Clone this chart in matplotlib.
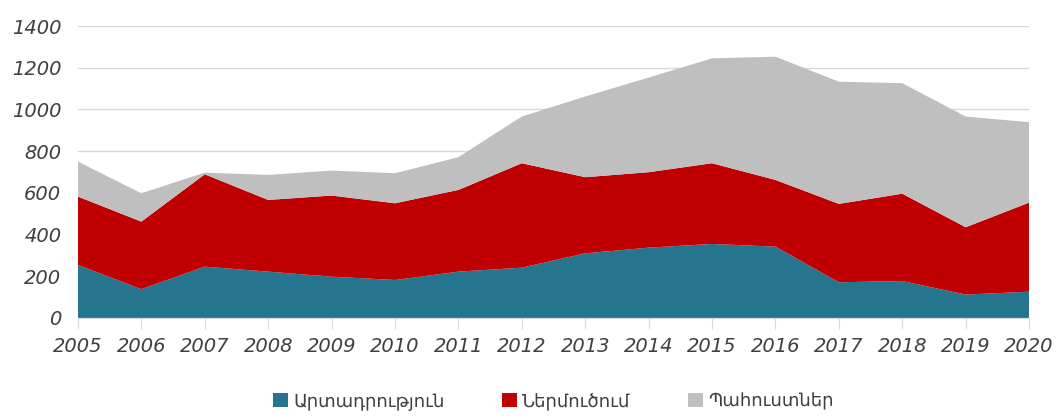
import numpy as np
import matplotlib.pyplot as plt

years = list(range(2005, 2021))
production = [254, 138, 246, 222, 198, 182, 222, 241, 310, 337, 355, 342, 171, 177, 112, 126]
imports = [328, 324, 443, 344, 389, 368, 392, 501, 365, 362, 387, 320, 376, 419, 323, 427]
stocks = [168, 136, 8, 120, 120, 144, 157, 224, 387, 454, 503, 591, 586, 530, 531, 386]
labels = ['Արտադրություն', 'Ներմուծում', 'Պահուստներ']
colors = ['#26758e', '#c00000', '#bfbfbf']

plt.rcParams['font.family'] = ['DejaVu Sans']

fig = plt.figure(figsize=(10.62, 4.2), dpi=100)
ax = fig.add_axes([0.0734, 0.243, 0.8956, 0.695])

ax.stackplot(years, production, imports, stocks, colors=colors, labels=labels,
             linewidth=0, zorder=2)

ax.set_xlim(2005, 2020)
ax.set_ylim(0, 1400)
ax.set_yticks(range(0, 1401, 200))
ax.set_xticks(years)
ax.grid(axis='y', color='#d9d9d9', linewidth=1, zorder=0)
ax.set_axisbelow(True)

for s in ['top', 'right', 'left']:
    ax.spines[s].set_visible(False)
ax.spines['bottom'].set_color('#d9d9d9')
ax.spines['bottom'].set_zorder(3)

ax.tick_params(axis='y', length=0, pad=12, labelsize=14, labelcolor='#404040')
ax.tick_params(axis='x', length=8, color='#d9d9d9', pad=6, labelsize=14, labelcolor='#404040')
for t in ax.get_xticklabels() + ax.get_yticklabels():
    t.set_fontstyle('italic')

leg = ax.legend(loc='upper center', bbox_to_anchor=(0.5, -0.2), ncol=3, frameon=False,
                fontsize=13, handlelength=0.8, handleheight=0.8, handletextpad=0.3,
                columnspacing=3.2, labelcolor='#404040')

plt.savefig('out.png', dpi=100)
